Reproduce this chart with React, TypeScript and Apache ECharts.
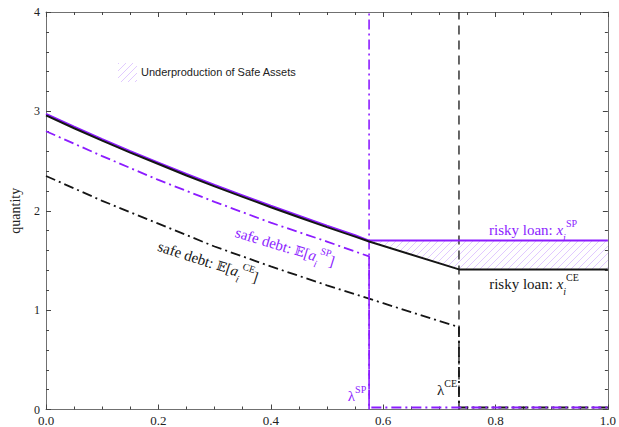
import React, { useEffect, useRef } from 'react';
import * as echarts from 'echarts';

const PURPLE = '#8c1cff';
const BLACK = '#151515';

const lambdaSP = 0.575;
const lambdaCE = 0.735;

// decreasing part of the risky-loan curves (x from 0 to lambdaSP)
const curveX = [0, 0.05, 0.1, 0.15, 0.2, 0.25, 0.3, 0.35, 0.4, 0.45, 0.5, 0.55, 0.575];
const riskyCEcurve = [2.96, 2.83, 2.705, 2.585, 2.47, 2.355, 2.245, 2.14, 2.035, 1.935, 1.835, 1.74, 1.69];
const riskySPcurve = [2.975, 2.845, 2.72, 2.6, 2.485, 2.37, 2.26, 2.155, 2.05, 1.95, 1.85, 1.755, 1.7];
// tails
const riskyCEtailX = [0.735, 1.0];
const riskyCEtail = [1.41, 1.41];
const riskySPtailX = [1.0];
const riskySPtail = [1.7];

// safe debt
const safeSPx = [0, 0.1, 0.2, 0.3, 0.4, 0.5, 0.575];
const safeSP = [2.8, 2.55, 2.31, 2.09, 1.88, 1.69, 1.54];
const safeCEx = [0, 0.1, 0.2, 0.3, 0.4, 0.5, 0.6, 0.7, 0.735];
const safeCE = [2.35, 2.1, 1.87, 1.64, 1.44, 1.25, 1.07, 0.89, 0.83];
const floorValue = 0.02;

// hatched region (underproduction)
const hatchX = [0.575, 0.735, 1.0];
const hatchLow = [1.69, 1.41, 1.41];
const hatchHigh = [1.7, 1.7, 1.7];

const xTicks = { min: 0, max: 1, interval: 0.2 };
const yTicks = { min: 0, max: 4, interval: 1 };

const zip = (xs: number[], ys: number[]) => xs.map((x, i) => [x, ys[i]]);

function makeHatch(): HTMLCanvasElement {
  const c = document.createElement('canvas');
  c.width = 7;
  c.height = 7;
  const ctx = c.getContext('2d')!;
  ctx.strokeStyle = 'rgba(195,150,255,0.5)';
  ctx.lineWidth = 1;
  ctx.beginPath();
  ctx.moveTo(0, 7);
  ctx.lineTo(7, 0);
  ctx.moveTo(-1, 1);
  ctx.lineTo(1, -1);
  ctx.moveTo(6, 8);
  ctx.lineTo(8, 6);
  ctx.stroke();
  return c;
}

const SERIF = 'Liberation Serif';

function richStyles(color: string) {
  return {
    n: { fontFamily: SERIF, fontSize: 15, fill: color, lineHeight: 24, verticalAlign: 'middle' },
    it: { fontFamily: SERIF, fontSize: 15, fontStyle: 'italic', fill: color, lineHeight: 24, verticalAlign: 'middle' },
    e: { fontFamily: 'DejaVu Serif', fontSize: 13, fill: color, lineHeight: 24, verticalAlign: 'middle' },
    sub: { fontFamily: SERIF, fontSize: 10, fontStyle: 'italic', fill: color, lineHeight: 14, verticalAlign: 'bottom' },
    sup: { fontFamily: SERIF, fontSize: 10, fill: color, lineHeight: 14, verticalAlign: 'top' },
  };
}

export default function App() {
  const ref = useRef<HTMLDivElement>(null);

  useEffect(() => {
    if (!ref.current) return;
    const chart = echarts.init(ref.current, undefined, { renderer: 'svg' });
    const hatch = { image: makeHatch(), repeat: 'repeat' };

    const axisCommon = {
      axisLine: { show: true, onZero: false, lineStyle: { color: '#707070', width: 1 } },
      axisTick: { show: true, inside: true, length: 5, lineStyle: { color: '#444' } },
      minorTick: { show: true, length: 3, lineStyle: { color: '#444' } },
      splitLine: { show: false },
      minorSplitLine: { show: false },
    };

    const lineBase = { type: 'line', symbol: 'none', silent: true };

    const option: any = {
      animation: false,
      grid: { left: 43, right: 8, top: 12, bottom: 17 },
      xAxis: [
        {
          type: 'value',
          ...xTicks,
          position: 'bottom',
          ...axisCommon,
          minorTick: { ...axisCommon.minorTick, splitNumber: 4 },
          axisLabel: {
            formatter: (v: number) => v.toFixed(1),
            fontFamily: SERIF,
            fontSize: 13,
            lineHeight: 12,
            color: '#222',
            margin: 5,
          },
        },
        {
          type: 'value',
          ...xTicks,
          position: 'top',
          ...axisCommon,
          minorTick: { ...axisCommon.minorTick, splitNumber: 4 },
          axisLabel: { show: false },
        },
      ],
      yAxis: [
        {
          type: 'value',
          ...yTicks,
          position: 'left',
          ...axisCommon,
          minorTick: { ...axisCommon.minorTick, splitNumber: 5 },
          name: 'quantity',
          nameLocation: 'middle',
          nameGap: 24,
          nameTextStyle: { fontFamily: SERIF, fontSize: 14, color: '#222' },
          axisLabel: { fontFamily: SERIF, fontSize: 12, lineHeight: 10, color: '#222', margin: 6 },
        },
        {
          type: 'value',
          ...yTicks,
          position: 'right',
          ...axisCommon,
          minorTick: { ...axisCommon.minorTick, splitNumber: 5 },
          axisLabel: { show: false },
        },
      ],
      series: [
        {
          type: 'custom',
          name: 'Underproduction of Safe Assets',
          silent: true,
          data: hatchX.map((x, i) => [x, hatchLow[i], hatchHigh[i]]),
          encode: { x: 0, y: [1, 2] },
          renderItem: (params: any, api: any) => {
            if (params.dataIndex !== 0) return null;
            const top = hatchX.map((x, i) => api.coord([x, hatchHigh[i]]));
            const bottom = hatchX.map((x, i) => api.coord([x, hatchLow[i]])).reverse();
            return {
              type: 'polygon',
              shape: { points: [...top, ...bottom] },
              style: { fill: hatch, stroke: 'none' },
            };
          },
        },
        {
          ...lineBase,
          name: 'lambdaSP',
          data: [[lambdaSP, yTicks.min], [lambdaSP, yTicks.max]],
          lineStyle: { color: PURPLE, width: 1.6, type: [10, 4, 2, 4] },
        },
        {
          ...lineBase,
          name: 'lambdaCE',
          data: [[lambdaCE, yTicks.min], [lambdaCE, yTicks.max]],
          lineStyle: { color: BLACK, width: 1.3, type: [9, 6] },
        },
        {
          ...lineBase,
          name: 'safe debt CE',
          data: [...zip(safeCEx, safeCE), [lambdaCE, floorValue], [1.0, floorValue]],
          lineStyle: { color: BLACK, width: 1.8, type: [10, 4, 2, 4] },
        },
        {
          ...lineBase,
          name: 'safe debt SP',
          data: [...zip(safeSPx, safeSP), [lambdaSP, floorValue], [1.0, floorValue]],
          lineStyle: { color: PURPLE, width: 1.8, type: [10, 4, 2, 4] },
        },
        {
          ...lineBase,
          name: 'risky loan SP',
          data: [...zip(curveX, riskySPcurve), ...zip(riskySPtailX, riskySPtail)],
          lineStyle: { color: PURPLE, width: 2 },
        },
        {
          ...lineBase,
          name: 'risky loan CE',
          data: [...zip(curveX, riskyCEcurve), ...zip(riskyCEtailX, riskyCEtail)],
          lineStyle: { color: BLACK, width: 2 },
        },
      ],
      graphic: [
        {
          type: 'rect',
          shape: { x: 118, y: 63, width: 19, height: 19 },
          style: { fill: hatch, stroke: 'none' },
        },
        {
          type: 'text',
          x: 141,
          y: 72,
          style: {
            text: 'Underproduction of Safe Assets',
            fontFamily: 'Liberation Sans',
            fontSize: 11,
            fill: '#222',
            align: 'left',
            verticalAlign: 'middle',
          },
        },
        {
          type: 'text',
          x: 533,
          y: 230,
          style: {
            text: '{n|risky loan: }{it|x}{sub|i}{sup|SP}',
            rich: richStyles(PURPLE),
            align: 'center',
            verticalAlign: 'middle',
          },
        },
        {
          type: 'text',
          x: 534,
          y: 284,
          style: {
            text: '{n|risky loan: }{it|x}{sub|i}{sup|CE}',
            rich: richStyles(BLACK),
            align: 'center',
            verticalAlign: 'middle',
          },
        },
        {
          type: 'text',
          x: 285,
          y: 247,
          rotation: (-17 * Math.PI) / 180,
          style: {
            text: '{n|safe debt: }{e|𝔼}{n|[}{it|a}{sub|i}{sup|SP}{n|]}',
            rich: richStyles(PURPLE),
            align: 'center',
            verticalAlign: 'middle',
          },
        },
        {
          type: 'text',
          x: 208,
          y: 262,
          rotation: (-18 * Math.PI) / 180,
          style: {
            text: '{n|safe debt: }{e|𝔼}{n|[}{it|a}{sub|i}{sup|CE}{n|]}',
            rich: richStyles(BLACK),
            align: 'center',
            verticalAlign: 'middle',
          },
        },
        {
          type: 'text',
          x: 357,
          y: 396,
          style: {
            text: '{n|λ}{sup|SP}',
            rich: richStyles(PURPLE),
            align: 'center',
            verticalAlign: 'middle',
          },
        },
        {
          type: 'text',
          x: 447,
          y: 390,
          style: {
            text: '{n|λ}{sup|CE}',
            rich: richStyles(BLACK),
            align: 'center',
            verticalAlign: 'middle',
          },
        },
      ],
    };

    chart.setOption(option);
    return () => chart.dispose();
  }, []);

  return (
    <div
      ref={ref}
      style={{ position: 'fixed', left: 0, top: 0, width: 619, height: 427, background: '#fff' }}
    />
  );
}
